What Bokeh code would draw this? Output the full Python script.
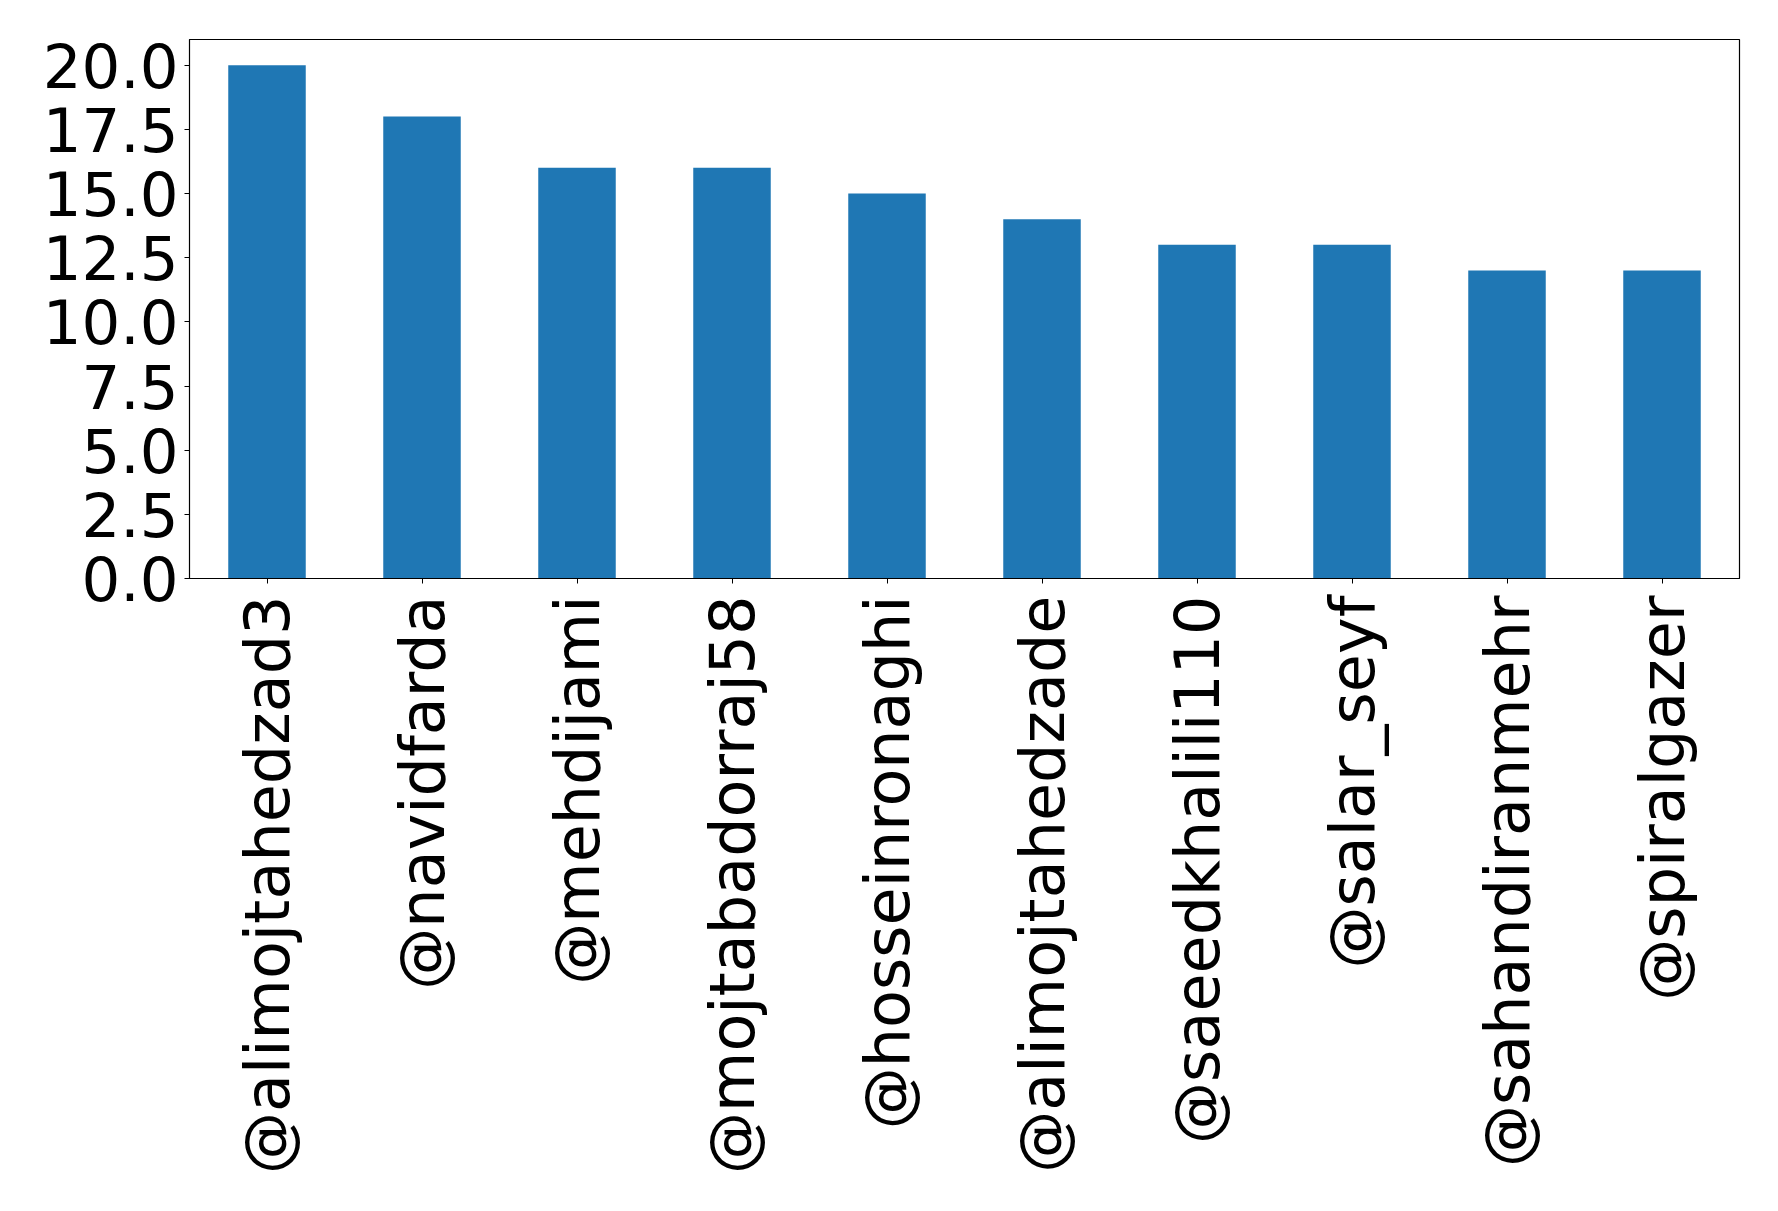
from bokeh.plotting import figure
from bokeh.models import ColumnDataSource, FixedTicker, PrintfTickFormatter, Range1d
from bokeh.embed import file_html
from bokeh.resources import INLINE
import math

users = ["@alimojtahedzad3", "@navidfarda", "@mehdijami", "@mojtabadorraj58",
         "@hosseinronaghi", "@alimojtahedzade", "@saeedkhalili110", "@salar_seyf",
         "@sahandiranmehr", "@spiralgazer"]
counts = [20, 18, 16, 16, 15, 14, 13, 13, 12, 12]
y_ticks = [0, 2.5, 5, 7.5, 10, 12.5, 15, 17.5, 20]

src = ColumnDataSource(dict(user=users, count=counts))

p = figure(x_range=users, y_range=Range1d(0, 21), width=1769, height=1200,
           output_backend="svg", toolbar_location=None,
           min_border_left=189, min_border_top=39, min_border_right=30,
           min_border_bottom=622)
p.x_range.range_padding = 0.0
p.vbar(x="user", top="count", width=0.5, source=src, color="#1f77b4", line_color=None)

p.xgrid.visible = False
p.ygrid.visible = False
p.outline_line_color = "black"
p.outline_line_width = 1.2
p.outline_line_alpha = 1.0

font = "DejaVu Sans"
for ax in (p.xaxis[0], p.yaxis[0]):
    ax.major_label_text_font = font
    ax.major_label_text_color = "black"
    ax.major_tick_out = 5
    ax.major_tick_in = 0
    ax.minor_tick_out = 0
    ax.minor_tick_in = 0
    ax.axis_line_color = "black"
    ax.major_tick_line_color = "black"

p.yaxis.major_label_text_font_size = "61px"
p.xaxis.major_label_text_font_size = "62px"
p.yaxis.ticker = FixedTicker(ticks=y_ticks)
p.yaxis.formatter = PrintfTickFormatter(format="%.1f")
p.yaxis.major_label_standoff = 6
p.xaxis.major_label_orientation = math.pi / 2
p.xaxis.major_label_standoff = 12

open("out.html", "w").write(file_html(p, INLINE))
